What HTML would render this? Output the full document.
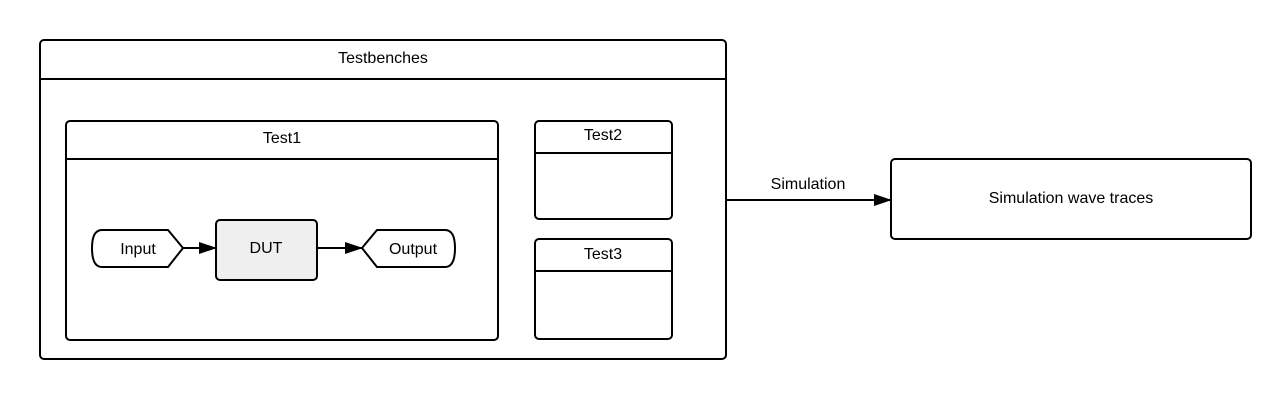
<!DOCTYPE html>
<html><head><style>body{margin:0;background:#fff}svg{display:block}</style></head><body>
<svg width="1283" height="400" viewBox="0 0 1283 400" xmlns="http://www.w3.org/2000/svg" font-family="Liberation Sans, sans-serif" font-size="16" fill="none" stroke="#000" stroke-width="2">
<defs><marker id="a" markerWidth="10" markerHeight="10" refX="9" refY="5" orient="auto" markerUnits="userSpaceOnUse"><path d="M0,0 L10,5 L0,10 z" fill="#000" stroke="none"/></marker>
<marker id="b" markerWidth="18" markerHeight="12" refX="17" refY="6" orient="auto" markerUnits="userSpaceOnUse"><path d="M0,0 L18,6 L0,12 z" fill="#000" stroke="none"/></marker></defs>
<rect x="40" y="40" width="686" height="319" rx="4"/>
<line x1="40" y1="79" x2="726" y2="79"/>
<rect x="66" y="121" width="432" height="219" rx="4"/>
<line x1="66" y1="159" x2="498" y2="159"/>
<rect x="535" y="121" width="137" height="98" rx="4"/>
<line x1="535" y1="153" x2="672" y2="153"/>
<rect x="535" y="239" width="137" height="100" rx="4"/>
<line x1="535" y1="271" x2="672" y2="271"/>
<rect x="891" y="159" width="360" height="80" rx="4"/>
<path d="M102,230 L168,230 L183,248 L168,267 L102,267 Q92,267 92,248 Q92,230 102,230 Z"/>
<rect x="216" y="220" width="101" height="60" rx="4" fill="#efefef"/>
<path d="M377,230 L445,230 Q455,230 455,248 Q455,267 445,267 L377,267 L362,248 Z"/>
<line x1="183" y1="248" x2="216" y2="248" marker-end="url(#b)"/>
<line x1="317" y1="248" x2="362" y2="248" marker-end="url(#b)"/>
<line x1="726" y1="200" x2="891" y2="200" marker-end="url(#b)"/>
<g fill="#000" stroke="none" text-anchor="middle">
<text x="383" y="63">Testbenches</text>
<text x="282" y="143">Test1</text>
<text x="603" y="140">Test2</text>
<text x="603" y="259">Test3</text>
<text x="138" y="254">Input</text>
<text x="266" y="253">DUT</text>
<text x="413" y="254">Output</text>
<text x="808" y="189">Simulation</text>
<text x="1071" y="203">Simulation wave traces</text>
</g>
</svg>
</body></html>
